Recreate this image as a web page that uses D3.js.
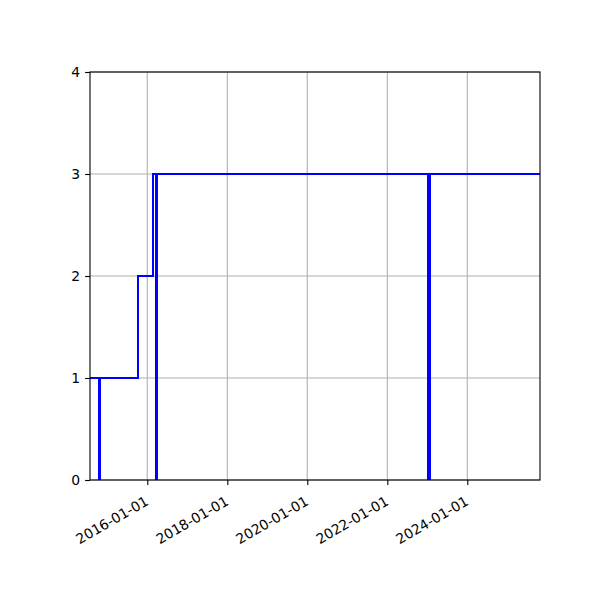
<!DOCTYPE html>
<html>
<head>
<meta charset="utf-8">
<script src="https://cdn.jsdelivr.net/npm/d3@7"></script>
<style>
  body { margin: 0; background: #fff; }
  text { font-family: "DejaVu Sans", sans-serif; }
</style>
</head>
<body>
<div id="chart"></div>
<script>
// step series: the short drops to zero come back a few days later
const dates = ['2014-07-01', '2014-10-18', '2014-10-26', '2015-10-11', '2016-02-25',
    '2016-03-25', '2016-04-02', '2023-01-11', '2023-01-22', '2025-12-31'];
const counts = [1, 0, 1, 2, 3, 0, 3, 0, 3, 3];
const tickDates = ['2016-01-01', '2018-01-01', '2020-01-01', '2022-01-01', '2024-01-01'];
const yTicks = [0, 1, 2, 3, 4];
const xRange = ['2014-07-27', '2025-10-26'];

const parse = d3.timeParse('%Y-%m-%d');
const fmt = d3.timeFormat('%Y-%m-%d');

// matplotlib-like margins (6x6 in figure at 100 dpi)
const margin = { top: 72, right: 60, bottom: 120, left: 90 };
const width = 600 - margin.left - margin.right;
const height = 600 - margin.top - margin.bottom;

const svg = d3.select('#chart')
    .append('svg')
    .attr('width', 600)
    .attr('height', 600);

const group = svg.append('g')
    .attr('transform', 'translate(' + margin.left + ',' + margin.top + ')');

const xScale = d3.scaleTime().domain(xRange.map(parse)).range([0, width]);
const yScale = d3.scaleLinear().domain([0, 4]).range([height, 0]);

// grid
group.append('g').selectAll('line.gx')
    .data(tickDates.map(parse))
    .enter().append('line')
    .attr('x1', d => xScale(d)).attr('x2', d => xScale(d))
    .attr('y1', 0).attr('y2', height)
    .attr('stroke', '#b0b0b0').attr('stroke-width', 1.1);
group.append('g').selectAll('line.gy')
    .data(yTicks)
    .enter().append('line')
    .attr('x1', 0).attr('x2', width)
    .attr('y1', d => yScale(d)).attr('y2', d => yScale(d))
    .attr('stroke', '#b0b0b0').attr('stroke-width', 1.1);

// step line
const data = dates.map((d, i) => [parse(d), counts[i]]);
svg.append('clipPath').attr('id', 'clip')
    .append('rect').attr('width', width).attr('height', height);

const line = d3.line()
    .x(d => xScale(d[0]))
    .y(d => yScale(d[1]))
    .curve(d3.curveStepAfter);

group.append('path')
    .datum(data)
    .attr('clip-path', 'url(#clip)')
    .attr('d', line)
    .attr('fill', 'none')
    .attr('stroke', '#0000ff')
    .attr('stroke-width', 2)
    .attr('shape-rendering', 'crispEdges');

// axes
const xAxis = d3.axisBottom(xScale)
    .tickValues(tickDates.map(parse))
    .tickFormat(fmt)
    .tickSize(4.9)
    .tickPadding(4.9)
    .tickSizeOuter(0);
const xAxisGroup = group.append('g')
    .attr('transform', 'translate(0,' + height + ')')
    .call(xAxis);
xAxisGroup.selectAll('text')
    .attr('font-size', '13.9px')
    .attr('fill', '#000')
    .style('text-anchor', 'end')
    .attr('dy', '0.75em')
    .attr('x', 0).attr('y', 0)
    .attr('transform', 'translate(-3.5,15) rotate(-30)');

const yAxis = d3.axisLeft(yScale)
    .tickValues(yTicks)
    .tickFormat(d3.format('d'))
    .tickSize(4.9)
    .tickPadding(4.9)
    .tickSizeOuter(0);
const yAxisGroup = group.append('g').call(yAxis);
yAxisGroup.selectAll('text').attr('font-size', '13.9px').attr('fill', '#000');

group.selectAll('.domain').remove();
group.selectAll('.tick line').attr('stroke', '#000').attr('stroke-width', 1.1);

// spines
group.append('rect')
    .attr('width', width).attr('height', height)
    .attr('fill', 'none').attr('stroke', '#000').attr('stroke-width', 1.1);
</script>
</body>
</html>
